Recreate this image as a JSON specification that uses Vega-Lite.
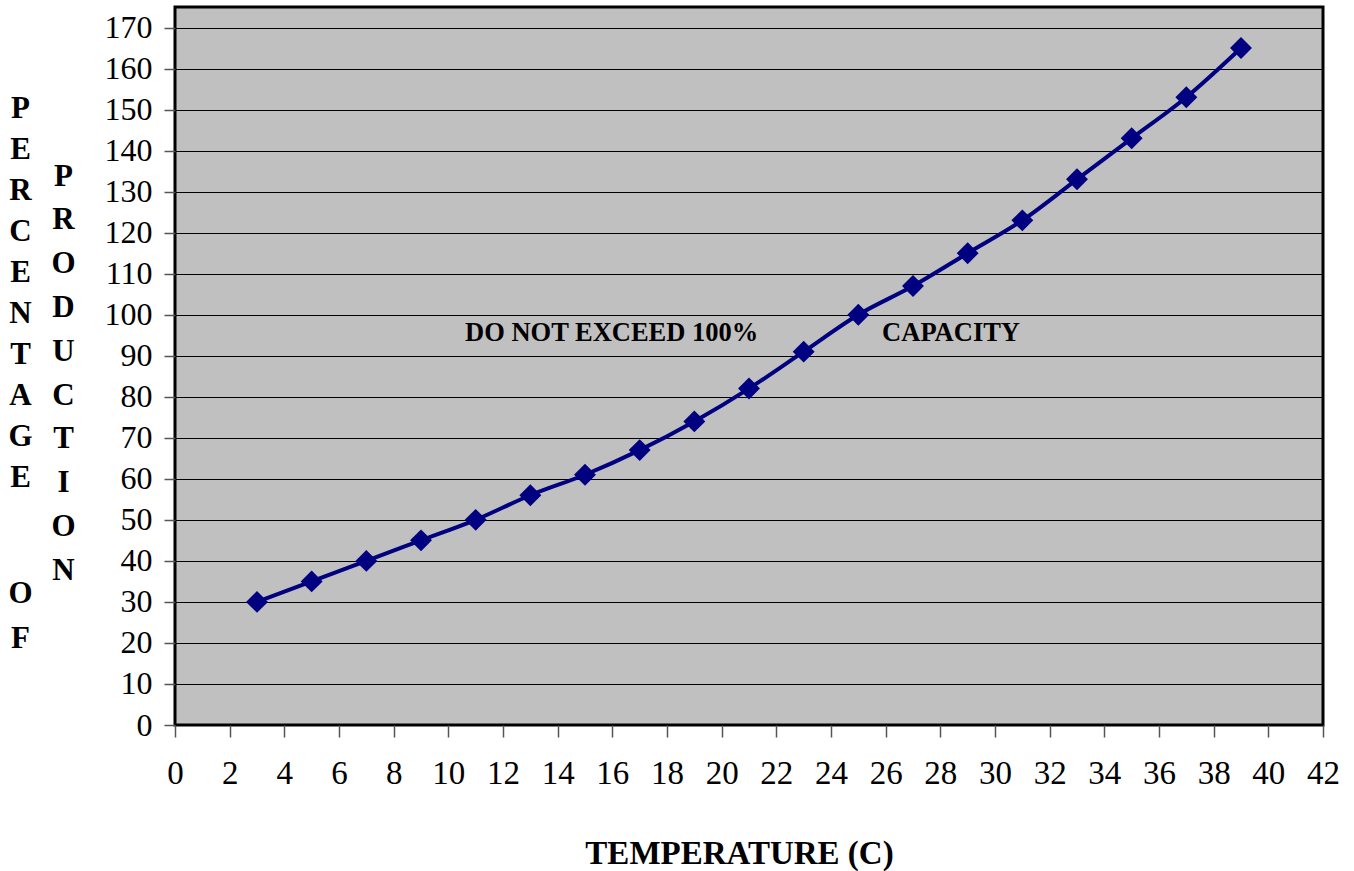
{
  "$schema": "https://vega.github.io/schema/vega-lite/v6.json",
  "width": 1148,
  "height": 718,
  "autosize": "none",
  "padding": {"left": 175, "top": 7, "right": 31, "bottom": 146},
  "background": "white",
  "config": {
    "view": {"fill": "#C0C0C0", "stroke": "black", "strokeWidth": 3},
    "font": "Liberation Serif"
  },
  "datasets": {
    "prod": [
      {"temp": 3, "pct": 30}, {"temp": 5, "pct": 35}, {"temp": 7, "pct": 40},
      {"temp": 9, "pct": 45}, {"temp": 11, "pct": 50}, {"temp": 13, "pct": 56},
      {"temp": 15, "pct": 61}, {"temp": 17, "pct": 67}, {"temp": 19, "pct": 74},
      {"temp": 21, "pct": 82}, {"temp": 23, "pct": 91}, {"temp": 25, "pct": 100},
      {"temp": 27, "pct": 107}, {"temp": 29, "pct": 115}, {"temp": 31, "pct": 123},
      {"temp": 33, "pct": 133}, {"temp": 35, "pct": 143}, {"temp": 37, "pct": 153},
      {"temp": 39, "pct": 165}
    ],
    "note1": [
      {"temp": 10.61, "pct": 95.6, "label": "DO NOT EXCEED 100%"}
    ],
    "note2": [
      {"temp": 25.87, "pct": 95.6, "label": "CAPACITY"}
    ]
  },
  "layer": [
    {
      "layer": [
        {
          "data": {"name": "prod"},
          "mark": {"type": "line", "color": "#000080", "strokeWidth": 4, "interpolate": "monotone"},
          "encoding": {
            "x": {"field": "temp", "type": "quantitative", "scale": {"domain": [0, 42], "nice": false},
              "axis": {"values": [0,2,4,6,8,10,12,14,16,18,20,22,24,26,28,30,32,34,36,38,40,42],
                "grid": false, "domain": false, "tickColor": "#555", "tickSize": 12, "tickWidth": 1.5,
                "labelFontSize": 33, "labelColor": "black", "labelPadding": 20, "labelFont": "Liberation Serif",
                "labelFlush": false, "labelOverlap": false,
                "title": "TEMPERATURE (C)", "titleFontSize": 33, "titleFontWeight": "bold", "titleColor": "black",
                "titleFont": "Liberation Serif", "titleX": 564, "titleAlign": "center", "titleY": 128, "titleBaseline": "middle"}},
            "y": {"field": "pct", "type": "quantitative", "scale": {"domain": [0, 175], "nice": false},
              "axis": {"values": [0,10,20,30,40,50,60,70,80,90,100,110,120,130,140,150,160,170],
                "grid": true, "gridColor": "black", "gridWidth": 1, "gridOpacity": 1, "domain": false,
                "tickColor": "#555", "tickSize": 11, "tickWidth": 1.5,
                "labelFontSize": 32, "labelColor": "black", "labelPadding": 12, "labelFont": "Liberation Serif",
                "labelOverlap": false,
                "title": ["P","R","O","D","U","C","T","I","O","N"],
                "titleAngle": 0, "titleFontSize": 31, "titleFontWeight": "bold", "titleColor": "black",
                "titleFont": "Liberation Serif", "titleLineHeight": 43.8, "titleAlign": "center",
                "titleBaseline": "middle", "titleX": -112, "titleY": 169}}
          }
        },
        {
          "data": {"name": "prod"},
          "mark": {"type": "point", "shape": "diamond", "filled": true, "color": "#000080", "size": 480, "opacity": 1},
          "encoding": {
            "x": {"field": "temp", "type": "quantitative"},
            "y": {"field": "pct", "type": "quantitative"}
          }
        }
      ]
    },
    {
      "data": {"name": "note1"},
      "mark": {"type": "text", "align": "left", "baseline": "middle", "fontWeight": "bold", "fontSize": 26.5, "color": "black", "font": "Liberation Serif"},
      "encoding": {
        "x": {"field": "temp", "type": "quantitative"},
        "y": {"field": "pct", "type": "quantitative", "scale": {"domain": [0, 175], "nice": false},
          "axis": {"orient": "left", "grid": false, "labels": false, "ticks": false, "domain": false,
            "title": ["P","E","R","C","E","N","T","A","G","E"],
            "titleAngle": 0, "titleFontSize": 31, "titleFontWeight": "bold", "titleColor": "black",
            "titleFont": "Liberation Serif", "titleLineHeight": 41, "titleAlign": "center",
            "titleBaseline": "middle", "titleX": -155, "titleY": 101}},
        "text": {"field": "label"}
      }
    },
    {
      "data": {"name": "note2"},
      "mark": {"type": "text", "align": "left", "baseline": "middle", "fontWeight": "bold", "fontSize": 26.5, "color": "black", "font": "Liberation Serif"},
      "encoding": {
        "x": {"field": "temp", "type": "quantitative"},
        "y": {"field": "pct", "type": "quantitative", "scale": {"domain": [0, 175], "nice": false},
          "axis": {"orient": "left", "grid": false, "labels": false, "ticks": false, "domain": false,
            "title": ["O","F"],
            "titleAngle": 0, "titleFontSize": 31, "titleFontWeight": "bold", "titleColor": "black",
            "titleFont": "Liberation Serif", "titleLineHeight": 45, "titleAlign": "center",
            "titleBaseline": "middle", "titleX": -155, "titleY": 586}},
        "text": {"field": "label"}
      }
    }
  ],
  "resolve": {"scale": {"y": "independent"}}
}
